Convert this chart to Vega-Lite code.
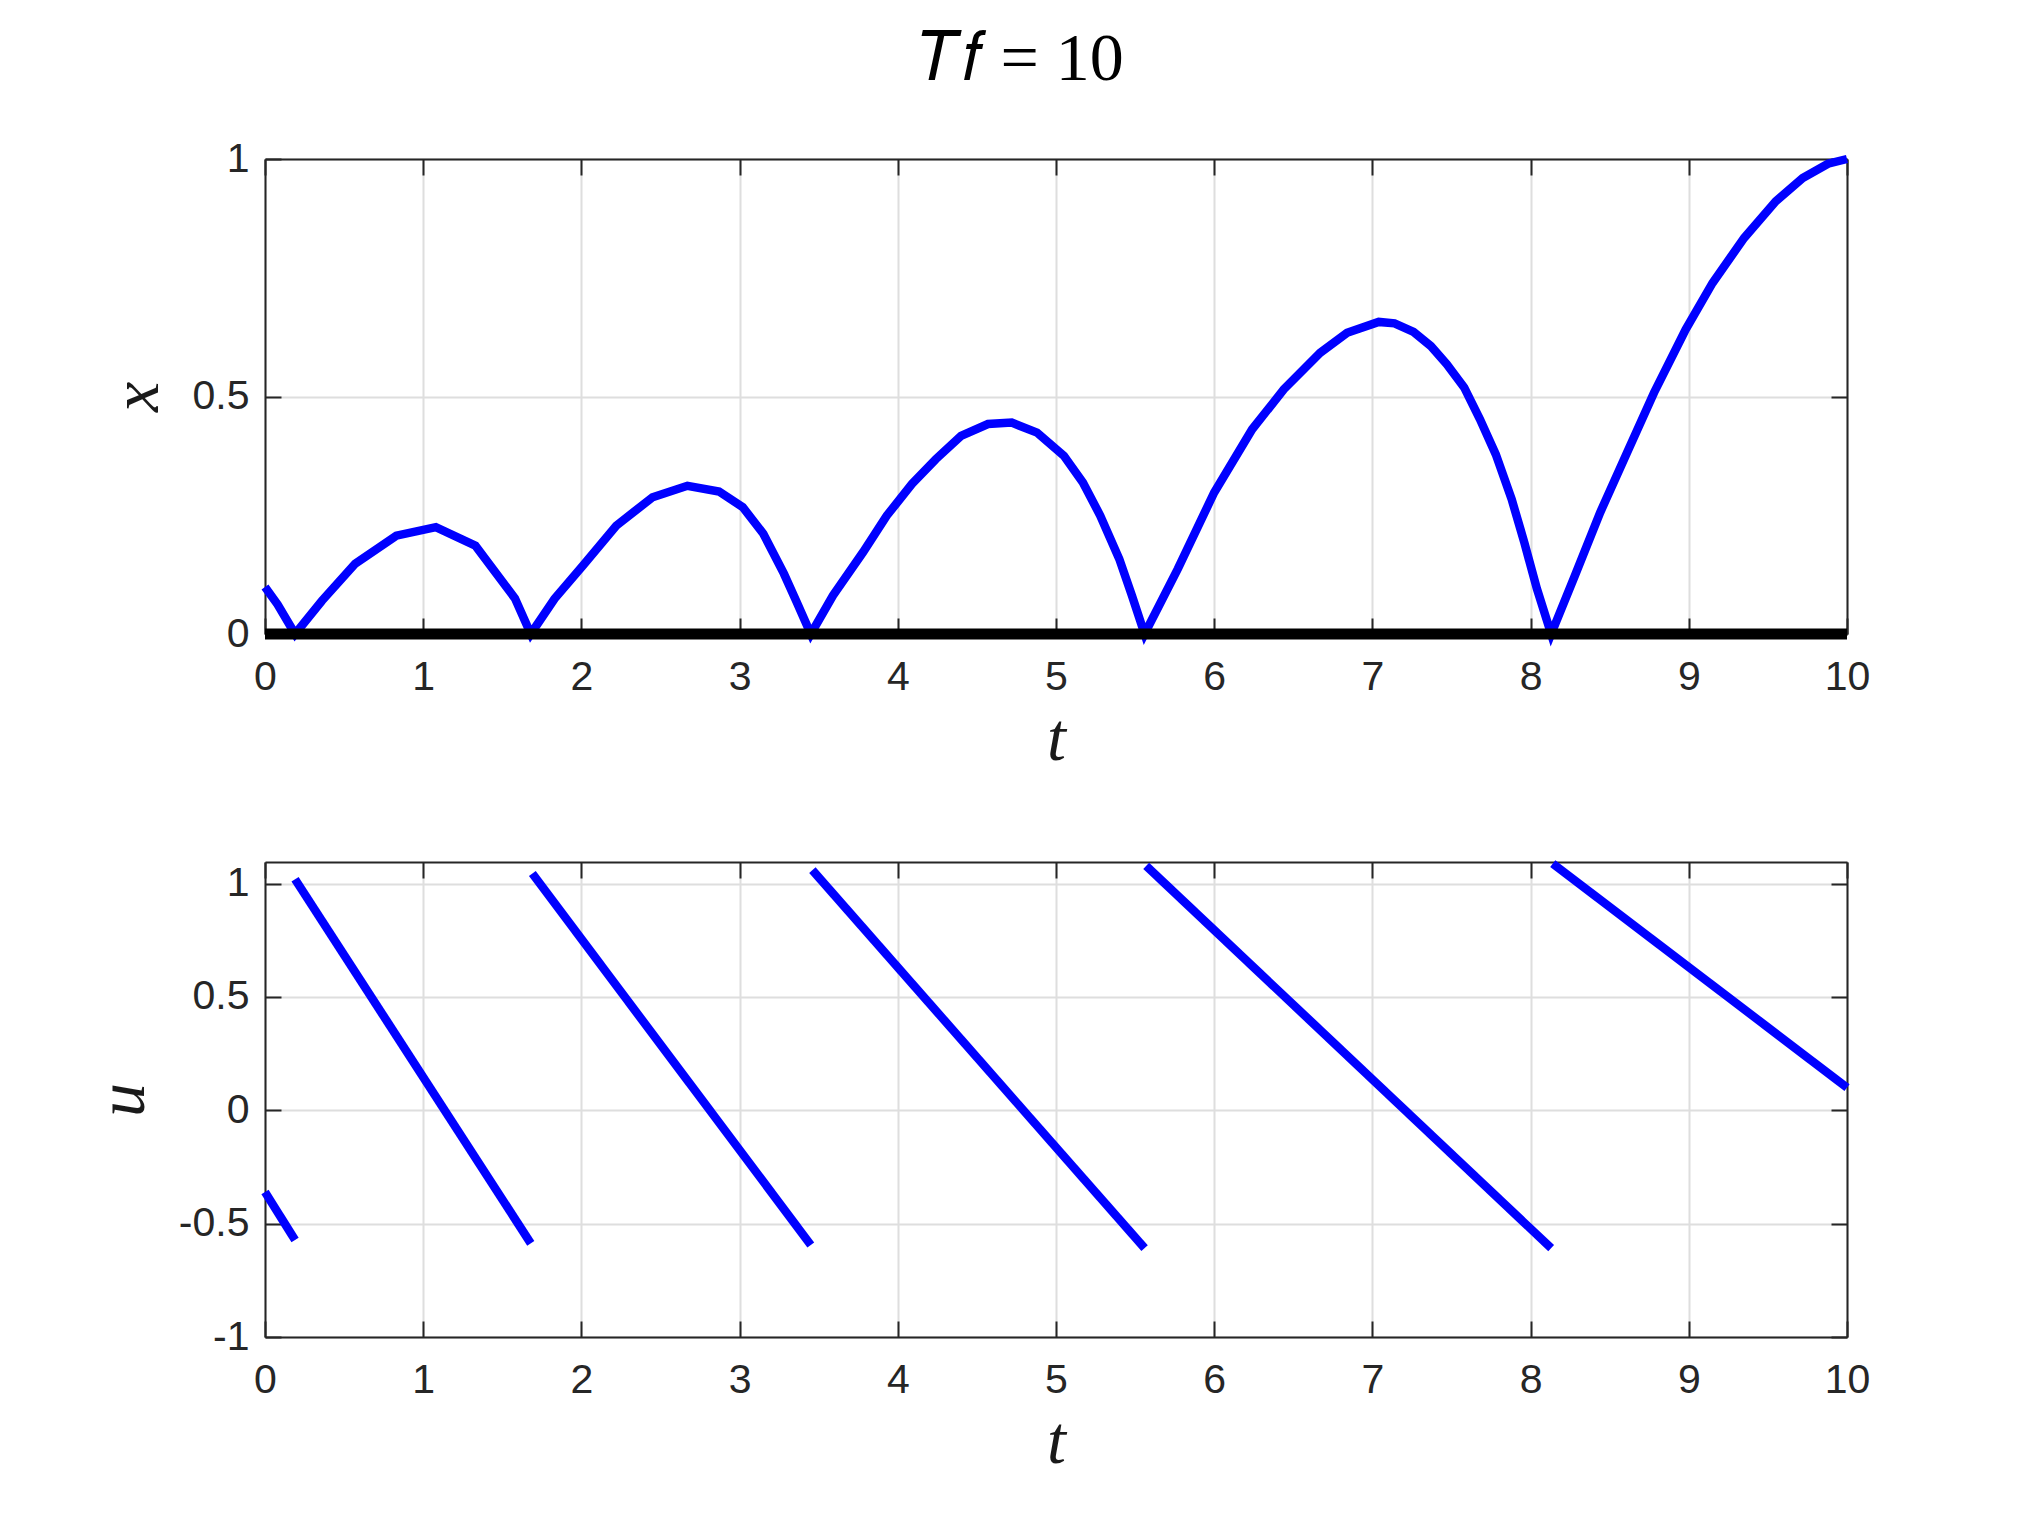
{
  "$schema": "https://vega.github.io/schema/vega-lite/v6.json",
  "background": "white",
  "padding": {"left": 89, "top": 26, "right": 20, "bottom": 20},
  "title": {"text": "𝑇𝑓 = 10", "font": "Liberation Serif", "fontSize": 68, "fontWeight": "normal", "color": "#000000", "anchor": "middle", "dx": 42, "offset": 44},
  "datasets": {
    "xs": [
      {"t": 0, "x": 0.099}, {"t": 0.08, "x": 0.062}, {"t": 0.19, "x": 0}, {"t": 0.36, "x": 0.07}, {"t": 0.57, "x": 0.148}, {"t": 0.83, "x": 0.207}, {"t": 1.08, "x": 0.225}, {"t": 1.33, "x": 0.186}, {"t": 1.58, "x": 0.075}, {"t": 1.68, "x": 0},
      {"t": 1.83, "x": 0.074}, {"t": 2.01, "x": 0.144}, {"t": 2.22, "x": 0.228}, {"t": 2.45, "x": 0.288}, {"t": 2.67, "x": 0.312}, {"t": 2.87, "x": 0.3}, {"t": 3.02, "x": 0.267}, {"t": 3.15, "x": 0.211}, {"t": 3.28, "x": 0.127}, {"t": 3.36, "x": 0.068}, {"t": 3.45, "x": 0},
      {"t": 3.59, "x": 0.081}, {"t": 3.78, "x": 0.172}, {"t": 3.93, "x": 0.249}, {"t": 4.09, "x": 0.316}, {"t": 4.24, "x": 0.368}, {"t": 4.4, "x": 0.417}, {"t": 4.57, "x": 0.442}, {"t": 4.72, "x": 0.445}, {"t": 4.88, "x": 0.424}, {"t": 5.05, "x": 0.375}, {"t": 5.17, "x": 0.319}, {"t": 5.28, "x": 0.249}, {"t": 5.4, "x": 0.158}, {"t": 5.48, "x": 0.081}, {"t": 5.56, "x": 0},
      {"t": 5.77, "x": 0.137}, {"t": 6.0, "x": 0.298}, {"t": 6.24, "x": 0.431}, {"t": 6.44, "x": 0.515}, {"t": 6.67, "x": 0.592}, {"t": 6.84, "x": 0.634}, {"t": 7.04, "x": 0.657}, {"t": 7.14, "x": 0.654}, {"t": 7.26, "x": 0.636}, {"t": 7.37, "x": 0.606}, {"t": 7.47, "x": 0.568}, {"t": 7.58, "x": 0.519}, {"t": 7.68, "x": 0.452}, {"t": 7.78, "x": 0.378}, {"t": 7.88, "x": 0.284}, {"t": 7.96, "x": 0.193}, {"t": 8.04, "x": 0.095}, {"t": 8.13, "x": 0},
      {"t": 8.28, "x": 0.123}, {"t": 8.44, "x": 0.256}, {"t": 8.61, "x": 0.382}, {"t": 8.78, "x": 0.508}, {"t": 8.98, "x": 0.641}, {"t": 9.15, "x": 0.739}, {"t": 9.35, "x": 0.834}, {"t": 9.55, "x": 0.911}, {"t": 9.72, "x": 0.96}, {"t": 9.88, "x": 0.99}, {"t": 10, "x": 1.0}
    ],
    "zero": [{"t": 0, "x": 0}, {"t": 10, "x": 0}],
    "us": [
      {"seg": 1, "t": 0, "u": -0.36}, {"seg": 1, "t": 0.19, "u": -0.572},
      {"seg": 2, "t": 0.19, "u": 1.019}, {"seg": 2, "t": 1.68, "u": -0.587},
      {"seg": 3, "t": 1.69, "u": 1.044}, {"seg": 3, "t": 3.45, "u": -0.594},
      {"seg": 4, "t": 3.46, "u": 1.059}, {"seg": 4, "t": 5.56, "u": -0.608},
      {"seg": 5, "t": 5.57, "u": 1.078}, {"seg": 5, "t": 8.13, "u": -0.608},
      {"seg": 6, "t": 8.14, "u": 1.088}, {"seg": 6, "t": 10, "u": 0.1}
    ]
  },
  "config": {
    "view": {"stroke": null},
    "axis": {
      "labelFont": "Liberation Sans", "labelFontSize": 41, "labelColor": "#262626", "labelFlush": false,
      "tickColor": "#262626", "tickWidth": 2, "tickSize": -16,
      "domainColor": "#262626", "domainWidth": 2,
      "gridColor": "#dedede", "gridWidth": 2,
      "titleFont": "Liberation Serif", "titleFontStyle": "italic", "titleFontWeight": "normal", "titleFontSize": 68, "titleColor": "#1a1a1a",
      "format": "~r",
      "labelExpr": "replace(datum.label, '\u2212', '-')"
    }
  },
  "spacing": 73,
  "vconcat": [
    {
      "width": 1582, "height": 475,
      "resolve": {"axis": {"x": "independent", "y": "independent"}},
      "layer": [
        {
          "data": {"name": "xs"},
          "mark": {"type": "line", "color": "#0000ff", "strokeWidth": 8.5},
          "encoding": {
            "x": {"field": "t", "type": "quantitative", "scale": {"domain": [0, 10], "nice": false, "zero": false},
                  "axis": {"orient": "bottom", "values": [0,1,2,3,4,5,6,7,8,9,10], "grid": true, "labelPadding": 39, "title": "t", "titlePadding": 8}},
            "y": {"field": "x", "type": "quantitative", "scale": {"domain": [0, 1], "nice": false, "zero": false},
                  "axis": {"orient": "left", "values": [0, 0.5, 1], "grid": true, "labelPadding": 32, "title": "x", "titlePadding": 21}}
          }
        },
        {
          "data": {"name": "zero"},
          "mark": {"type": "line", "color": "#000000", "strokeWidth": 11},
          "encoding": {
            "x": {"field": "t", "type": "quantitative",
                  "axis": {"orient": "top", "values": [0,1,2,3,4,5,6,7,8,9,10], "grid": false, "labels": false, "title": null}},
            "y": {"field": "x", "type": "quantitative",
                  "axis": {"orient": "right", "values": [0, 0.5, 1], "grid": false, "labels": false, "title": null}}
          }
        }
      ]
    },
    {
      "width": 1582, "height": 475,
      "resolve": {"axis": {"x": "independent", "y": "independent"}},
      "layer": [
        {
          "data": {"name": "us"},
          "transform": [{"filter": "datum.seg <= 3"}],
          "mark": {"type": "line", "color": "#0000ff", "strokeWidth": 8.5},
          "encoding": {
            "x": {"field": "t", "type": "quantitative", "scale": {"domain": [0, 10], "nice": false, "zero": false},
                  "axis": {"orient": "bottom", "values": [0,1,2,3,4,5,6,7,8,9,10], "grid": true, "labelPadding": 39, "title": "t", "titlePadding": 8}},
            "y": {"field": "u", "type": "quantitative", "scale": {"domain": [-1, 1.095], "nice": false, "zero": false},
                  "axis": {"orient": "left", "values": [-1, -0.5, 0, 0.5, 1], "grid": true, "labelPadding": 32, "title": "u", "titlePadding": 21}},
            "detail": {"field": "seg", "type": "nominal"}
          }
        },
        {
          "data": {"name": "us"},
          "transform": [{"filter": "datum.seg >= 4"}],
          "mark": {"type": "line", "color": "#0000ff", "strokeWidth": 8.5},
          "encoding": {
            "x": {"field": "t", "type": "quantitative",
                  "axis": {"orient": "top", "values": [0,1,2,3,4,5,6,7,8,9,10], "grid": false, "labels": false, "title": null}},
            "y": {"field": "u", "type": "quantitative",
                  "axis": {"orient": "right", "values": [-1, -0.5, 0, 0.5, 1], "grid": false, "labels": false, "title": null}},
            "detail": {"field": "seg", "type": "nominal"}
          }
        }
      ]
    }
  ]
}
